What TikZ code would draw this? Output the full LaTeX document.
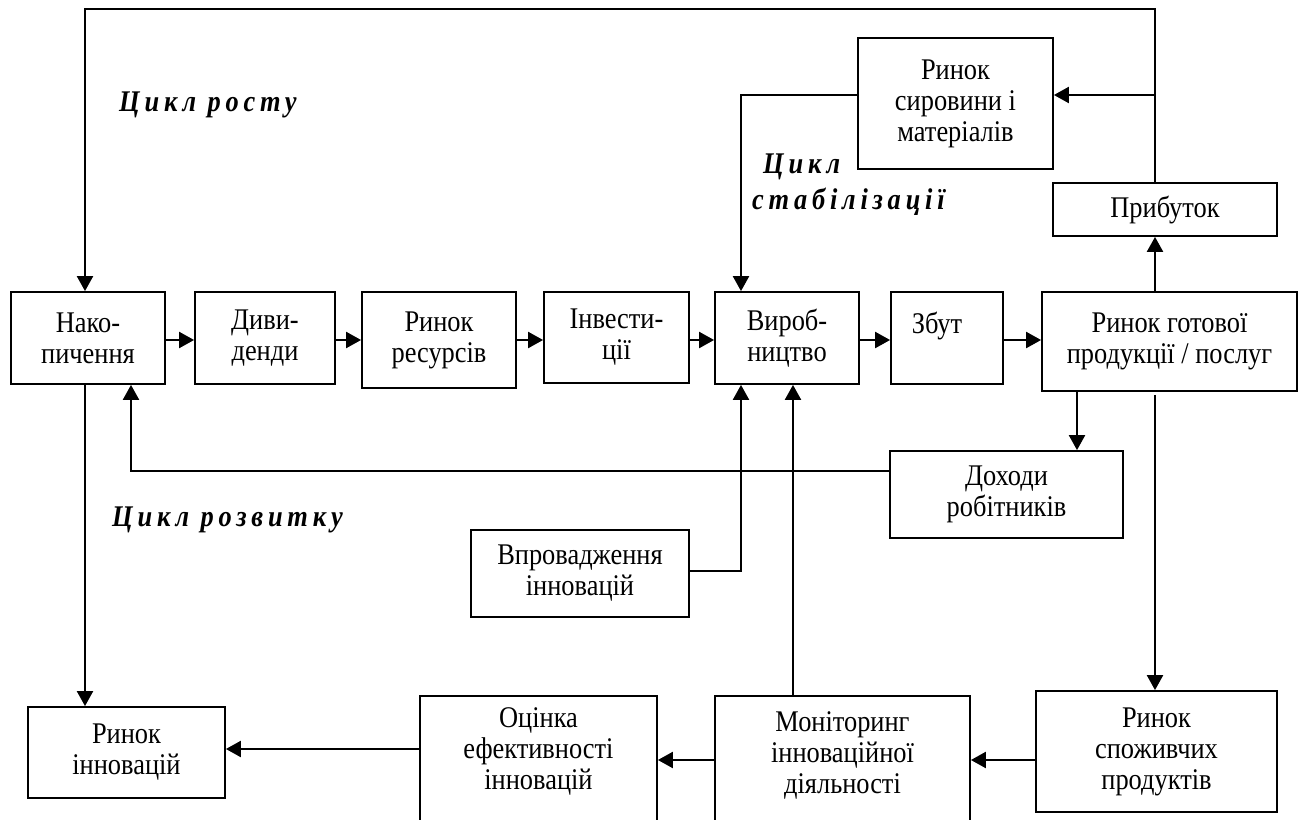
\documentclass[tikz,border=0pt]{standalone}
\usepackage{fontspec}
\setmainfont{Liberation Serif}[FakeStretch=0.88]
\usetikzlibrary{arrows.meta,calc}
\begin{document}
\begin{tikzpicture}[x=1pt,y=-1pt,
  box/.style={draw,line width=1.8pt,align=center,inner sep=0pt,font=\fontsize{30}{31}\selectfont},
  txt/.style={align=center,inner sep=0pt,font=\fontsize{30}{31}\selectfont},
  arr/.style={line width=2.2pt,-{Triangle[length=15pt,width=16pt]}},
  cyc/.style={inner sep=0pt,anchor=west,font=\fontsize{30}{31}\selectfont\bfseries\itshape\addfontfeatures{LetterSpace=16}}
]
\clip (0,0) rectangle (1298,819);
\fill[white] (0,0) rectangle (1298,819);

% main row
\node[box,minimum width=154pt,minimum height=92pt] (nak) at (88,338) {Нако-\\пичення};
\node[box,minimum width=140pt,minimum height=92pt] (div) at (265,338) {Диви-\\денди};
\node[box,minimum width=154pt,minimum height=96pt] (rres) at (439,340) {Ринок\\ресурсів};
\node[box,minimum width=145pt,minimum height=91pt] (inv) at (616.5,337.5) {Інвести-\\ції};
\node[box,minimum width=144pt,minimum height=92pt] (vyr) at (787,338) {Вироб-\\ництво};
\node[box,minimum width=112pt,minimum height=92pt] (zbut) at (947,338) {Збут\hspace*{20pt}\\~};
\node[box,minimum width=255pt,minimum height=99pt] (rgot) at (1169.5,341.5) {Ринок готової\\продукції / послуг};

% upper boxes
\node[box,minimum width=195pt,minimum height=131pt] (syr) at (955.5,103.5) {Ринок\\сировини і\\матеріалів};
\node[box,minimum width=224pt,minimum height=53pt] (prib) at (1165,209.5) {Прибуток};

% middle boxes
\node[box,minimum width=233pt,minimum height=87pt] (doh) at (1006.5,494.5) {Доходи\\робітників};
\node[box,minimum width=218pt,minimum height=87pt] (vpr) at (580,573.5) {Впровадження\\інновацій};

% bottom boxes
\node[box,minimum width=197pt,minimum height=91pt] (rinn) at (126.5,752.5) {Ринок\\інновацій};
\node[box,minimum width=237pt,minimum height=160pt] (ocin) at (538.5,776) {};
\node[txt] (ocint) at (538.5,751) {Оцінка\\ефективності\\інновацій};
\node[box,minimum width=255pt,minimum height=160pt] (mon) at (842.5,776) {};
\node[txt] (mont) at (842.5,755) {Моніторинг\\інноваційної\\діяльності};
\node[box,minimum width=241pt,minimum height=121pt] (rspo) at (1156.5,751.5) {Ринок\\споживчих\\продуктів};

% cycle labels
\node[cyc] (lrost) at (119,105) {Цикл росту};
\node[cyc] (lstab1) at (763,167) {Цикл};
\node[cyc] (lstab2) at (752,202) {стабілізації};
\node[cyc] (lrozv) at (112,520) {Цикл розвитку};

% helper coordinates
\coordinate (tr) at (1155,9);
\coordinate (tl) at (85,9);
\coordinate (br) at (1155,95);
\coordinate (vx) at (741,95);
\coordinate (row) at (0,340);
\coordinate (dx) at (1077,0);
\coordinate (back) at (131,471);
\coordinate (vp) at (741,571);
\coordinate (mx) at (793,0);
\coordinate (low) at (0,760);
\coordinate (low2) at (0,749);

% growth loop
\draw[arr] (prib.north -| tr) -- (tr) -- (tl) -- (nak.north -| tl);
\draw[arr] (br) -- (syr.east |- br);
\draw[arr] (syr.west |- br) -- (vx) -- (vyr.north -| vx);
\draw[arr] (rgot.north -| tr) -- (prib.south -| tr);

% main chain
\draw[arr] (nak.east |- row) -- (div.west |- row);
\draw[arr] (div.east |- row) -- (rres.west |- row);
\draw[arr] (rres.east |- row) -- (inv.west |- row);
\draw[arr] (inv.east |- row) -- (vyr.west |- row);
\draw[arr] (vyr.east |- row) -- (zbut.west |- row);
\draw[arr] (zbut.east |- row) -- (rgot.west |- row);

% workers income
\draw[arr] (rgot.south -| dx) -- (doh.north -| dx);
\draw[arr] (doh.west |- back) -- (back) -- (nak.south -| back);

% development
\draw[arr] (nak.south -| tl) -- (rinn.north -| tl);
\draw[arr] (vpr.east |- vp) -- (vp) -- (vyr.south -| vp);
\draw[arr] (mon.north -| mx) -- (vyr.south -| mx);
\draw[arr] ([yshift=-3pt]rgot.south -| tr) -- (rspo.north -| tr);
\draw[arr] (rspo.west |- low) -- (mon.east |- low);
\draw[arr] (mon.west |- low) -- (ocin.east |- low);
\draw[arr] (ocin.west |- low2) -- (rinn.east |- low2);
\end{tikzpicture}
\end{document}
